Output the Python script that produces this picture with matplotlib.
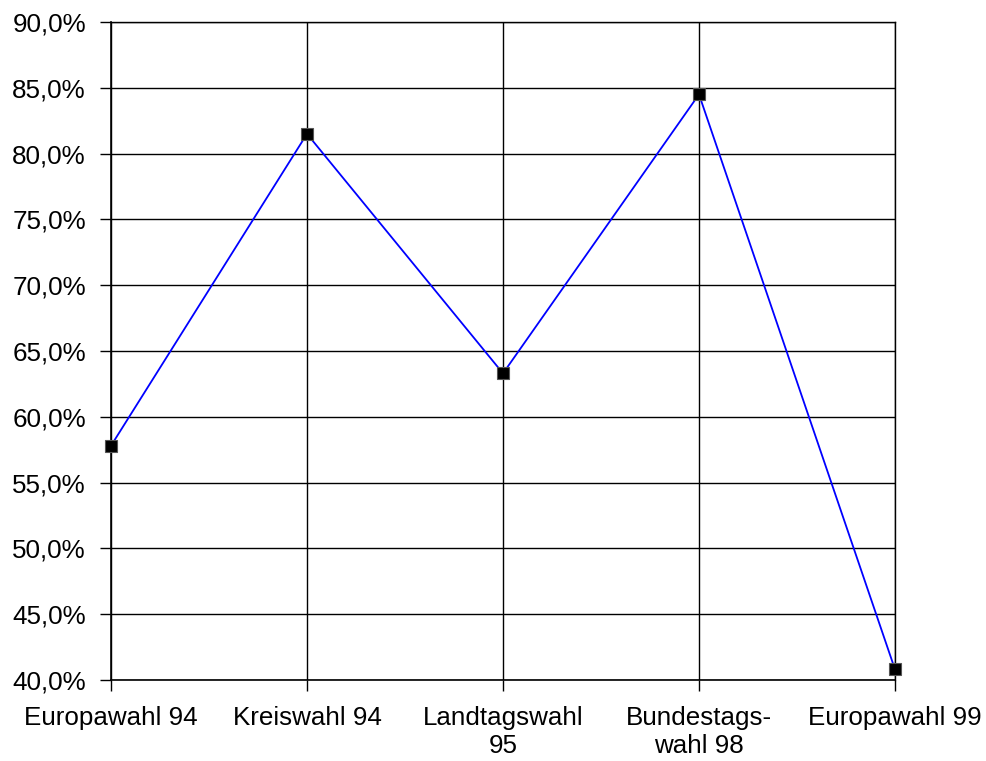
import matplotlib
matplotlib.use("Agg")
import matplotlib.pyplot as plt
from matplotlib.ticker import FuncFormatter

categories = ["Europawahl 94", "Kreiswahl 94", "Landtagswahl\n95", "Bundestags-\nwahl 98", "Europawahl 99"]
values = [57.8, 81.5, 63.3, 84.5, 40.8]
yticks = [40, 45, 50, 55, 60, 65, 70, 75, 80, 85, 90]

plt.rcParams['font.family'] = ['Liberation Sans', 'DejaVu Sans']

fig = plt.figure(figsize=(9.87, 7.61), dpi=100)
ax = fig.add_axes([111/987, 1-680/761, (895-111)/987, (680-22)/761])

x = list(range(len(categories)))
ax.plot(x, values, color='#0000ff', linewidth=1.3, marker='s', markersize=9,
        markerfacecolor='black', markeredgecolor='#555555', markeredgewidth=0.8, clip_on=False, zorder=5)

ax.set_xlim(0, len(categories)-1)
ax.set_ylim(40, 90)
ax.set_yticks(yticks)
ax.yaxis.set_major_formatter(FuncFormatter(lambda v, p: f"{v:.1f}%".replace('.', ',')))
ax.set_xticks(x)
ax.set_xticklabels(categories, fontsize=18.7, linespacing=1.2)
ax.tick_params(axis='y', labelsize=18.7, length=8, width=1, direction='out', pad=10)
ax.tick_params(axis='x', length=8, width=1, direction='out', pad=11)
ax.grid(True, color='black', linewidth=1)
ax.set_axisbelow(True)
for s in ['top', 'right']:
    ax.spines[s].set_linewidth(1)
for s in ['left', 'bottom']:
    ax.spines[s].set_linewidth(1.2)

fig.savefig("out.png", dpi=100)
